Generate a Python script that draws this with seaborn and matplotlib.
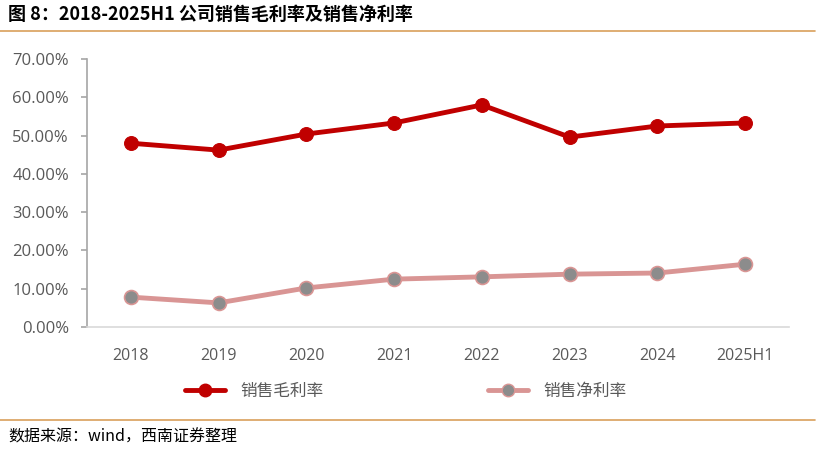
import matplotlib
matplotlib.use('Agg')
import matplotlib.pyplot as plt
import seaborn as sns
import pandas as pd
from matplotlib.lines import Line2D
from matplotlib.ticker import PercentFormatter

years = ['2018', '2019', '2020', '2021', '2022', '2023', '2024', '2025H1']
gross_margin = [48.0, 46.2, 50.4, 53.3, 58.0, 49.6, 52.5, 53.3]
net_margin = [7.8, 6.3, 10.2, 12.5, 13.1, 13.8, 14.1, 16.4]

sns.set_theme(style='white')
plt.rcParams['font.family'] = ['Noto Sans CJK SC', 'DejaVu Sans']

df = pd.DataFrame({'year': years, 'gross': gross_margin, 'net': net_margin})

fig = plt.figure(figsize=(8.21, 4.51), dpi=100)
ax = fig.add_axes([87 / 821, 1 - 327 / 451, (789 - 87) / 821, (327 - 59) / 451])

red = '#C00000'
pink = '#D99594'
grey = '#8C8C8C'

sns.lineplot(data=df, x='year', y='gross', ax=ax, color=red, lw=3.5,
             marker='o', markersize=10, markerfacecolor=red, markeredgecolor=red, sort=False)
sns.lineplot(data=df, x='year', y='net', ax=ax, color=pink, lw=3.5,
             marker='o', markersize=10, markerfacecolor=grey, markeredgecolor=pink,
             markeredgewidth=1.2, sort=False)

ax.set_xlim(-0.5, len(years) - 0.5)
ax.set_ylim(0, 70)
ax.set_yticks(range(0, 71, 10))
ax.yaxis.set_major_formatter(PercentFormatter(decimals=2))
ax.set_xlabel('')
ax.set_ylabel('')

for s in ['top', 'right']:
    ax.spines[s].set_visible(False)
ax.spines['left'].set_color('#A6A6A6')
ax.spines['left'].set_linewidth(1.2)
ax.spines['bottom'].set_color('#D9D9D9')
ax.spines['bottom'].set_linewidth(1.2)
ax.tick_params(axis='y', left=True, length=4, width=1.2, color='#A6A6A6',
               labelsize=12, labelcolor='#595959', pad=9)
ax.tick_params(axis='x', bottom=False, labelsize=11.5, labelcolor='#595959', pad=9)
for lab in ax.get_xticklabels() + ax.get_yticklabels():
    lab.set_fontfamily(['Open Sans', 'DejaVu Sans'])

# legend, one entry per block so each sits where the reference has it
h1 = Line2D([], [], color=red, lw=3.5, marker='o', markersize=9, markerfacecolor=red, markeredgecolor=red)
h2 = Line2D([], [], color=pink, lw=3.5, marker='o', markersize=9, markerfacecolor=grey, markeredgecolor=pink)
for h, lab, x0 in [(h1, '销售毛利率', 185), (h2, '销售净利率', 488)]:
    leg = fig.legend([h], [lab], loc='center left', bbox_to_anchor=(x0 / 821, 1 - 391 / 451),
                     frameon=False, fontsize=12, handlelength=2.4, handletextpad=0.95,
                     borderpad=0, borderaxespad=0)
    for t in leg.get_texts():
        t.set_color('#595959')

# header and footer
fig.text(8 / 821, 1 - 14 / 451, '图 8：2018-2025H1 公司销售毛利率及销售净利率', fontsize=13,
         fontweight='heavy', va='center', ha='left', color='black')
fig.add_artist(Line2D([0, 815 / 821], [1 - 31 / 451] * 2, color='#D9A05B', lw=1.2))
fig.add_artist(Line2D([0, 815 / 821], [1 - 420 / 451] * 2, color='#D9A05B', lw=1.2))
fig.text(8 / 821, 1 - 437 / 451, '数据来源：wind，西南证券整理', fontsize=11.5, style='italic',
         va='center', ha='left', color='black')

fig.savefig('out.png', dpi=100)
